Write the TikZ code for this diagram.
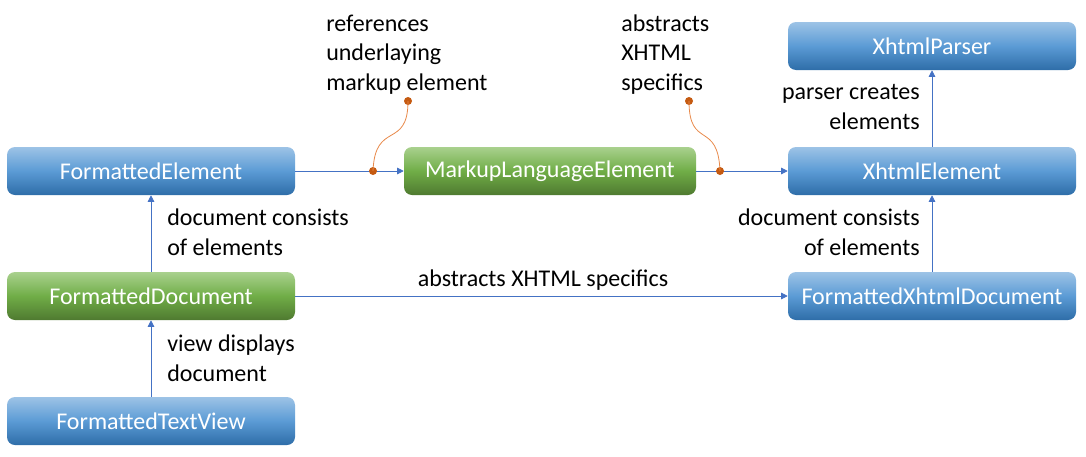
\documentclass[tikz,border=0pt]{standalone}
\usepackage{fontspec}
\setmainfont{Carlito}
\usetikzlibrary{shapes,arrows.meta,positioning}

\definecolor{bluetop}{HTML}{9DC3E6}
\definecolor{bluemid}{HTML}{5B9BD5}
\definecolor{bluebot}{HTML}{2E6DA8}
\definecolor{greentop}{HTML}{A9D18E}
\definecolor{greenmid}{HTML}{70AD47}
\definecolor{greenbot}{HTML}{4F7A30}
\definecolor{linkblue}{HTML}{4472C4}
\definecolor{noteorange}{HTML}{C55A11}
\definecolor{notelight}{HTML}{E8894A}

\tikzset{
	box/.style={shape=rectangle, rounded corners=6pt, minimum width=216pt, minimum height=36pt, inner sep=0pt, text=white},
	bluebox/.style={box, top color=bluetop, bottom color=bluebot, middle color=bluemid},
	greenbox/.style={box, top color=greentop, bottom color=greenbot, middle color=greenmid},
	link/.style={color=linkblue, line width=0.6pt, -{Triangle[length=5pt,width=5pt]}},
	note/.style={draw=notelight, line width=0.6pt},
	notedot/.style={shape=circle, fill=noteorange, inner sep=0pt, minimum size=6pt},
	lbl/.style={inner sep=0pt, align=left}
}

\begin{document}
\begin{tikzpicture}[x=0.75pt, y=-0.75pt, font=\fontsize{18}{22}\selectfont]
	\useasboundingbox (0,0) rectangle (1086,457);

	\node[bluebox] (1) at (151,171) {FormattedElement};
	\node[greenbox, minimum width=219pt] (2) at (550,171) {MarkupLanguageElement};
	\node[bluebox] (3) at (932,171) {XhtmlElement};
	\node[bluebox] (4) at (932,46) {XhtmlParser};
	\node[greenbox] (5) at (151,296) {FormattedDocument};
	\node[bluebox] (6) at (932,296) {FormattedXhtmlDocument};
	\node[bluebox] (7) at (151,421) {FormattedTextView};

	\path [link] (1) edge (2);
	\path [link] (2) edge (3);
	\path [link] (3) edge (4);
	\path [link] (6) edge (3);
	\path [link] (5) edge (1);
	\path [link] (5) edge (6);
	\path [link] (7) edge (5);

	% edge labels (anchored at the last baseline)
	\node[lbl, anchor=base west] (8) at (167,255) {document consists\\of elements};
	\node[lbl, anchor=base west] (9) at (167,381) {view displays\\document};
	\node[lbl, anchor=base] (10) at (543,286) {abstracts XHTML specifics};
	\node[lbl, align=right, anchor=base east] (11) at (920,129) {parser creates\\elements};
	\node[lbl, align=right, anchor=base east] (12) at (920,255) {document consists\\of elements};

	% notes
	\node[lbl, anchor=base west] (13) at (326,90) {references\\underlaying\\markup element};
	\node[lbl, anchor=base west] (14) at (621,90) {abstracts\\XHTML\\specifics};
	\node[notedot] (15) at (373,171) {};
	\node[notedot] (16) at (408,101) {};
	\node[notedot] (17) at (720,171) {};
	\node[notedot] (18) at (689,101) {};
	\draw [note] (15.center) .. controls (375,120) and (408,150) .. (16.center);
	\draw [note] (17.center) .. controls (718,120) and (689,150) .. (18.center);
\end{tikzpicture}
\end{document}
